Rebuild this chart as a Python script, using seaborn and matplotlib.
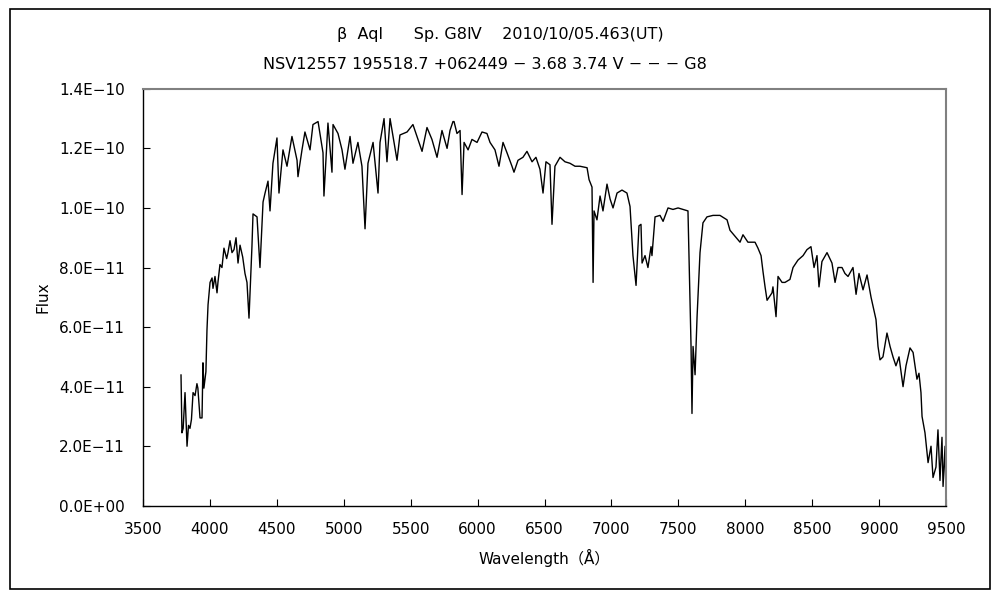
import numpy as np
import pandas as pd
import matplotlib
matplotlib.use("Agg")
import matplotlib.pyplot as plt
import matplotlib.patches as mpatches
from matplotlib.ticker import FuncFormatter, MultipleLocator
import seaborn as sns

# ---- data ----
wavelength = [
    3784, 3791, 3800, 3814, 3829, 3840, 3851, 3862, 3874, 3889, 3903, 3910,
    3926, 3941, 3948, 3955, 3970, 3978, 3986, 4001, 4016, 4023, 4038, 4053,
    4060, 4075, 4090, 4105, 4125, 4135, 4150, 4165, 4180, 4195, 4210, 4225,
    4245, 4262, 4277, 4292, 4314, 4322, 4352, 4374, 4397, 4412, 4434, 4449,
    4471, 4501, 4516, 4546, 4576, 4613, 4651, 4658, 4688, 4710, 4748, 4770,
    4808, 4845, 4852, 4882, 4912, 4920, 4957, 4987, 5009, 5047, 5069, 5106,
    5136, 5159, 5181, 5219, 5256, 5271, 5301, 5323, 5346, 5368, 5398, 5420,
    5473, 5517, 5547, 5585, 5622, 5659, 5697, 5734, 5772, 5794, 5816, 5824,
    5846, 5869, 5884, 5899, 5929, 5958, 5996, 6033, 6070, 6093, 6130, 6160,
    6190, 6220, 6257, 6272, 6302, 6339, 6369, 6407, 6436, 6466, 6489, 6511,
    6541, 6556, 6578, 6616, 6653, 6690, 6728, 6765, 6818, 6833, 6855, 6863,
    6870, 6892, 6915, 6937, 6967, 6990, 7012, 7042, 7079, 7116, 7139, 7161,
    7184, 7206, 7221, 7229, 7251, 7273, 7296, 7303, 7326, 7363, 7386, 7423,
    7460, 7498, 7535, 7572, 7595, 7602, 7610, 7625, 7640, 7662, 7684, 7714,
    7759, 7811, 7864, 7886, 7923, 7961, 7983, 8020, 8073, 8095, 8118, 8133,
    8148, 8163, 8178, 8200, 8207, 8230, 8245, 8275, 8297, 8334, 8357, 8394,
    8432, 8461, 8491, 8514, 8536, 8551, 8573, 8611, 8648, 8671, 8693, 8723,
    8745, 8768, 8805, 8828, 8850, 8880, 8910, 8940, 8955, 8977, 8992, 9007,
    9029, 9059, 9082, 9104, 9126, 9149, 9179, 9201, 9231, 9254, 9283, 9298,
    9313, 9321, 9343, 9366, 9388, 9403, 9425, 9440, 9455, 9470, 9478, 9493,
    9500,
]
# flux in units of 1e-11
flux_e11 = [
    4.40, 2.45, 2.60, 3.80, 2.00, 2.70, 2.60, 2.90, 3.80, 3.70, 4.10, 3.95,
    2.95, 2.95, 4.80, 3.95, 4.50, 5.90, 6.75, 7.50, 7.65, 7.30, 7.70, 7.15,
    7.50, 8.10, 8.00, 8.65, 8.30, 8.50, 8.90, 8.50, 8.60, 9.00, 8.15, 8.75,
    8.35, 7.80, 7.50, 6.30, 8.70, 9.80, 9.70, 8.00, 10.20, 10.50, 10.90, 9.90,
    11.50, 12.35, 10.50, 11.95, 11.40, 12.40, 11.60, 11.05, 11.95, 12.55, 11.95, 12.80,
    12.90, 11.85, 10.40, 12.85, 11.20, 12.80, 12.50, 11.95, 11.30, 12.40, 11.50, 12.20,
    11.40, 9.30, 11.50, 12.20, 10.50, 12.20, 13.00, 11.55, 13.00, 12.40, 11.60, 12.45,
    12.55, 12.80, 12.40, 11.90, 12.70, 12.30, 11.70, 12.60, 12.00, 12.60, 12.90, 12.90,
    12.50, 12.60, 10.45, 12.20, 11.95, 12.30, 12.20, 12.55, 12.50, 12.20, 11.95, 11.40,
    12.20, 11.85, 11.40, 11.20, 11.60, 11.70, 11.90, 11.55, 11.70, 11.30, 10.50, 11.55,
    11.45, 9.45, 11.40, 11.70, 11.55, 11.50, 11.40, 11.40, 11.35, 10.95, 10.70, 7.50,
    9.90, 9.60, 10.40, 9.90, 10.80, 10.30, 10.00, 10.50, 10.60, 10.50, 10.05, 8.40,
    7.40, 9.40, 9.45, 8.15, 8.40, 8.00, 8.70, 8.40, 9.70, 9.75, 9.55, 10.00,
    9.95, 10.00, 9.95, 9.90, 5.35, 3.10, 5.35, 4.40, 6.35, 8.50, 9.50, 9.70,
    9.75, 9.75, 9.60, 9.25, 9.05, 8.85, 9.10, 8.85, 8.85, 8.65, 8.40, 7.85,
    7.35, 6.90, 7.00, 7.15, 7.35, 6.35, 7.70, 7.50, 7.50, 7.60, 8.00, 8.25,
    8.40, 8.60, 8.70, 8.00, 8.40, 7.35, 8.20, 8.50, 8.15, 7.50, 8.00, 8.00,
    7.80, 7.70, 8.00, 7.10, 7.80, 7.25, 7.75, 7.00, 6.70, 6.25, 5.35, 4.90,
    5.00, 5.80, 5.35, 5.00, 4.70, 5.00, 4.00, 4.70, 5.30, 5.15, 4.25, 4.45,
    3.80, 3.00, 2.45, 1.45, 2.00, 0.95, 1.30, 2.55, 0.85, 2.30, 0.65, 2.00,
    0.30,
]

x_ticks = [3500, 4000, 4500, 5000, 5500, 6000, 6500, 7000, 7500, 8000, 8500, 9000, 9500]
title_line1 = "β  Aql      Sp. G8Ⅳ    2010/10/05.463(UT)"
title_line2 = "NSV12557 195518.7 +062449 − 3.68 3.74 V − − − G8"
x_label = "Wavelength（Å）"
y_label = "Flux"

df = pd.DataFrame({"wavelength": wavelength, "flux": np.array(flux_e11) * 1e-11})

# ---- style ----
sns.set_theme(style="white")
plt.rcParams["font.family"] = ["DejaVu Sans", "Noto Sans CJK JP"]
plt.rcParams["text.color"] = "black"
plt.rcParams["axes.labelcolor"] = "black"

fig = plt.figure(figsize=(10, 6), dpi=100)
ax = fig.add_axes([0.143, 0.157, 0.803, 0.695])

sns.lineplot(data=df, x="wavelength", y="flux", ax=ax, color="black",
             linewidth=1.0, sort=False, estimator=None)

ax.set_xlim(3500, 9500)
ax.set_ylim(0, 1.4e-10)
ax.set_xticks(x_ticks)
ax.xaxis.set_major_formatter(FuncFormatter(lambda v, p: f"{int(v)}"))
ax.yaxis.set_major_locator(MultipleLocator(2e-11))
ax.yaxis.set_major_formatter(FuncFormatter(lambda v, p: f"{v:.1E}".replace("-", "−")))
ax.tick_params(axis="both", direction="in", length=5, width=0.8, colors="black",
               labelsize=11, left=True, bottom=True)
ax.tick_params(axis="y", pad=13)
ax.tick_params(axis="x", pad=12)

for side in ["left", "bottom"]:
    ax.spines[side].set_color("black")
    ax.spines[side].set_linewidth(1.0)
for side in ["top", "right"]:
    ax.spines[side].set_color("#808080")
    ax.spines[side].set_linewidth(1.5)

ax.set_xlabel(x_label, fontsize=11, labelpad=8, color="black")
ax.set_ylabel(y_label, fontsize=11, labelpad=6, color="black")
ax.grid(False)

fig.text(0.50, 0.942, title_line1, ha="center", va="center", fontsize=11.5, color="black")
fig.text(0.485, 0.892, title_line2, ha="center", va="center", fontsize=11.5, color="black")

border = mpatches.Rectangle((0.010, 0.018), 0.980, 0.967, transform=fig.transFigure,
                            fill=False, edgecolor="black", linewidth=1.2)
fig.patches.append(border)

fig.savefig("out.png", dpi=100, facecolor="white")
